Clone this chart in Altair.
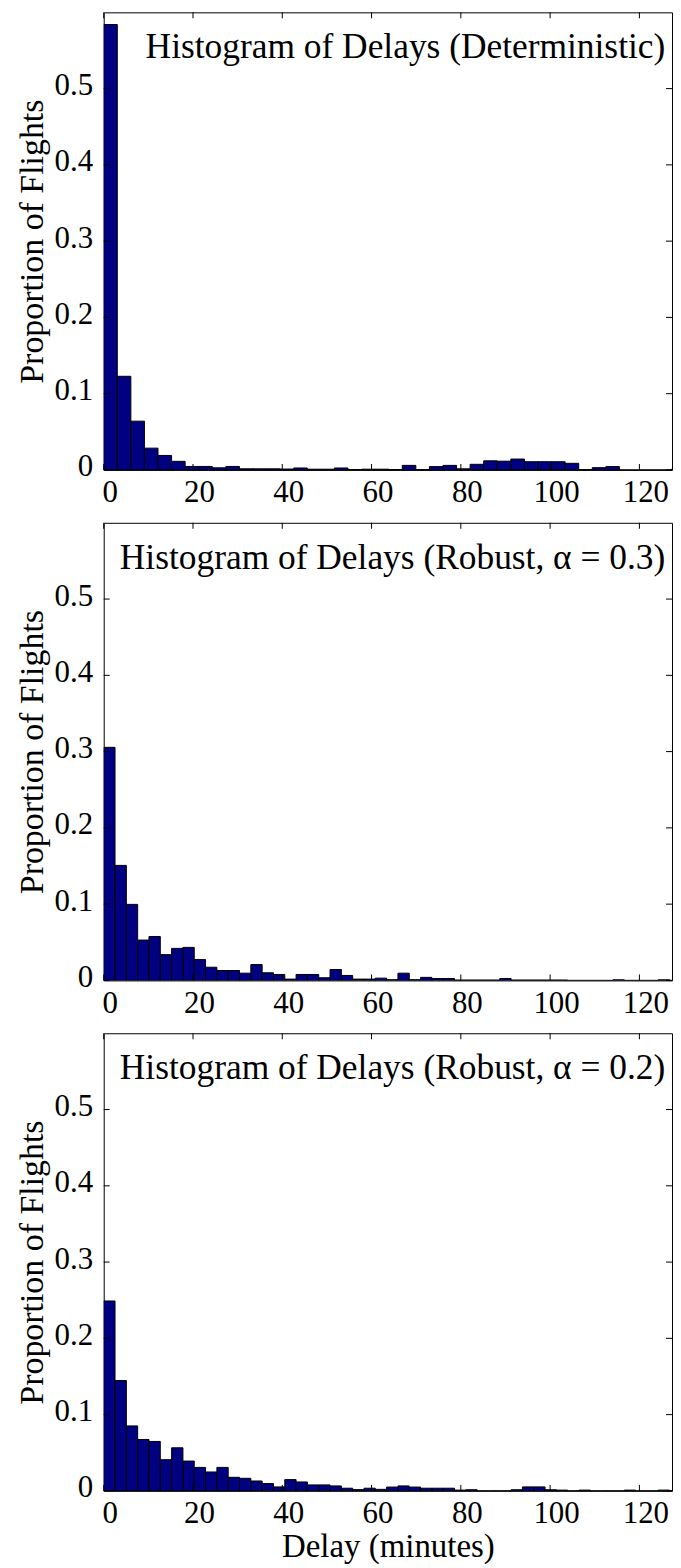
import altair as alt
import pandas as pd

# ---- data ----
bin_width_det = 3.04
bin_width_rob = 2.535

det = [0.584, 0.1228, 0.064, 0.0286, 0.019, 0.0113, 0.0046, 0.0046, 0.0028, 0.0046,
       0.0015, 0.0015, 0.0015, 0.0012, 0.0026, 0.001, 0.001, 0.0026, 0.0005, 0.001,
       0.001, 0.0005, 0.006, 0.0005, 0.0044, 0.006, 0.0015, 0.0074, 0.012, 0.0115,
       0.0143, 0.0108, 0.0108, 0.0108, 0.0087, 0.0005, 0.003, 0.0044, 0, 0,
       0, 0, 0.0015]
rob03 = [0.3056, 0.1508, 0.0997, 0.0529, 0.0576, 0.0338, 0.042, 0.0433, 0.0273, 0.0173,
         0.013, 0.013, 0.0095, 0.0208, 0.01, 0.0078, 0.0017, 0.0078, 0.0078, 0.0035,
         0.0143, 0.0065, 0.0017, 0.0017, 0.003, 0.001, 0.0095, 0.001, 0.004, 0.0025,
         0.0025, 0.0005, 0.0005, 0.0005, 0.0005, 0.0025, 0.0005, 0.0005, 0.0005, 0.0005,
         0.0005, 0, 0, 0, 0, 0.0008, 0, 0, 0, 0.0008, 0]
rob02 = [0.249, 0.1447, 0.0852, 0.0674, 0.0648, 0.0409, 0.0565, 0.0391, 0.0308, 0.0248,
         0.0308, 0.0178, 0.0165, 0.013, 0.0096, 0.0052, 0.0148, 0.0117, 0.0078, 0.0078,
         0.0065, 0.0035, 0.0017, 0.0035, 0.002, 0.005, 0.0065, 0.005, 0.0035, 0.0035,
         0.0035, 0.001, 0.0015, 0, 0, 0, 0.0015, 0.0052, 0.0052, 0.0015,
         0.001, 0, 0.001, 0, 0, 0, 0.001, 0, 0, 0.001, 0]

titles = ["Histogram of Delays (Deterministic)",
          "Histogram of Delays (Robust, α = 0.3)",
          "Histogram of Delays (Robust, α = 0.2)"]
y_max = 0.6
title_y = 0.54
title_x = 125.8
x_ticks = [0, 20, 40, 60, 80, 100, 120]
y_ticks = [0, 0.1, 0.2, 0.3, 0.4, 0.5]
y_title = "Proportion of Flights"
x_title = "Delay (minutes)"

W = 570
H = 459
PX_PER_UNIT_X = 4.4775
x_max = W / PX_PER_UNIT_X
FONT = "Liberation Serif"
TL = 6  # inward tick length


def panel(vals, bw, title, xt):
    df = pd.DataFrame({
        "start": [i * bw for i in range(len(vals))],
        "end": [(i + 1) * bw for i in range(len(vals))],
        "p": vals,
    })
    xs = alt.Scale(domain=[0, x_max], nice=False, zero=False, clamp=True)
    ys = alt.Scale(domain=[0, y_max], nice=False)
    xaxis = alt.Axis(values=x_ticks, ticks=False, domain=False, grid=False,
                     labelPadding=8, labelFlush=False, labelOffset=6,
                     titlePadding=2, titleFontSize=33)
    yaxis = alt.Axis(values=y_ticks, ticks=False, domain=False, grid=False,
                     labelPadding=11, labelFlush=False, labelOffset=-3, format="~g",
                     titlePadding=5)
    bars = alt.Chart(df).mark_bar(
        fill="#000080", stroke="black", strokeWidth=1, clip=True
    ).encode(
        x=alt.X("start:Q", scale=xs, axis=xaxis, title=xt),
        x2="end:Q",
        y=alt.Y("p:Q", scale=ys, axis=yaxis, title=y_title, stack=None),
        y2=alt.datum(0),
    )
    xtdf = pd.DataFrame({"start": x_ticks})
    ytdf = pd.DataFrame({"p": y_ticks})
    xb = alt.Chart(xtdf).mark_rule(color="black", strokeWidth=1).encode(
        x=alt.X("start:Q", scale=xs, title=xt),
        y=alt.value(H), y2=alt.value(H - TL))
    xtop = alt.Chart(xtdf).mark_rule(color="black", strokeWidth=1).encode(
        x=alt.X("start:Q", scale=xs, title=xt),
        y=alt.value(0), y2=alt.value(TL))
    yl = alt.Chart(ytdf).mark_rule(color="black", strokeWidth=1).encode(
        y=alt.Y("p:Q", scale=ys, title=y_title),
        x=alt.value(0), x2=alt.value(TL))
    yr = alt.Chart(ytdf).mark_rule(color="black", strokeWidth=1).encode(
        y=alt.Y("p:Q", scale=ys, title=y_title),
        x=alt.value(W), x2=alt.value(W - TL))
    tdf = pd.DataFrame({"start": [title_x], "p": [title_y], "label": [title]})
    txt = alt.Chart(tdf).mark_text(
        align="right", baseline="alphabetic", font=FONT, fontSize=35.5, color="black"
    ).encode(
        x=alt.X("start:Q", scale=xs, title=xt),
        y=alt.Y("p:Q", scale=ys, title=y_title),
        text="label:N")
    return alt.layer(bars, xb, xtop, yl, yr, txt).properties(width=W, height=H)


p1 = panel(det, bin_width_det, titles[0], None)
p2 = panel(rob03, bin_width_rob, titles[1], None)
p3 = panel(rob02, bin_width_rob, titles[2], x_title)

chart = alt.vconcat(p1, p2, p3, spacing=13).properties(
    padding={"left": 6, "top": 1, "right": 0, "bottom": 0},
    background="white",
).configure_view(
    stroke="black", strokeWidth=1
).configure_axis(
    labelFont=FONT, labelFontSize=31, labelColor="black",
    titleFont=FONT, titleFontSize=34, titleColor="black", titleFontWeight="normal"
)

chart.save("out.html", embed_options={"renderer": "svg", "actions": False})
